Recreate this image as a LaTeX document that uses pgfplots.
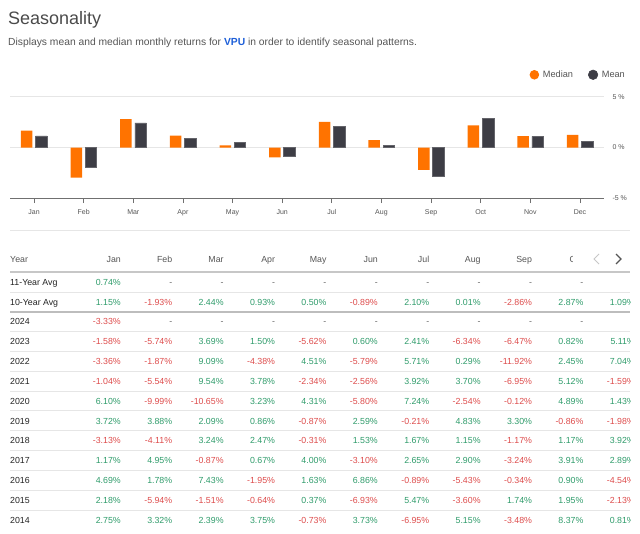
\documentclass[border=0pt]{standalone}
\usepackage{pgfplots}
\pgfplotsset{compat=1.18}
\usepackage{fontspec}
\setmainfont{Liberation Sans}

\definecolor{medc}{HTML}{FF7300}
\definecolor{meanc}{HTML}{3D3D45}
\definecolor{gridc}{HTML}{E6E6E6}
\definecolor{axc}{HTML}{707070}
\definecolor{txt}{HTML}{555555}
\definecolor{titc}{HTML}{4A4A4A}
\definecolor{rowc}{HTML}{222222}
\definecolor{pos}{HTML}{2E9B6A}
\definecolor{neg}{HTML}{DD4B4B}
\definecolor{dashc}{HTML}{666666}
\definecolor{vpu}{HTML}{1E5FD8}

\newcommand\fs[1]{\fontsize{#1bp}{#1bp}\selectfont}

% colour a table cell by its sign, "-" alone is an empty cell
\def\cell#1{\cellA#1\end}
\def\cellA#1#2\end{\if-#1\ifx\relax#2\relax\textcolor{dashc}{-}\else\textcolor{neg}{#1#2\%}\fi\else\textcolor{pos}{#1#2\%}\fi}

\newcommand\trow[3]{%
  \node[anchor=base west, text=rowc] at (10,#1+3.2) {#2};
  \foreach \v [count=\i] in {#3} {
    \node[anchor=base east] at ({69.6+51.4*\i},#1+3.2) {\expandafter\cell\expandafter{\v}};
  }
}

\pgfplotstableread{
m  median  mean
0  1.675   1.15
1  -2.99   -1.93
2  2.815   2.44
3  1.18    0.93
4  0.20    0.50
5  -0.98   -0.89
6  2.53    2.10
7  0.72    0.20
8  -2.205  -2.86
9  2.20    2.87
10 1.12    1.09
11 1.25    0.60
}\seas

\begin{document}
\begin{tikzpicture}[x=1bp, y=-1bp]
\path[use as bounding box] (0,0) rectangle (640,534);

\node[anchor=base west, text=titc, font=\fs{18}, inner sep=0] at (8,25) {Seasonality};
\node[anchor=base west, text=txt, font=\fs{10.3}, inner sep=0] at (8,46) {Displays mean and median monthly returns for \textcolor{vpu}{\textbf{VPU}} in order to identify seasonal patterns.};

\begin{axis}[
    at={(10bp,-198bp)}, anchor=south west,
    scale only axis, width=594bp, height=101bp,
    xmin=-0.484, xmax=11.484, ymin=-5, ymax=5,
    axis x line*=bottom, axis y line*=right,
    x axis line style={draw=axc},
    y axis line style={draw=none},
    xtick={0,...,11},
    xticklabels={Jan,Feb,Mar,Apr,May,Jun,Jul,Aug,Sep,Oct,Nov,Dec},
    ytick={-5,0,5},
    yticklabels={-5 \%,0 \%,5 \%},
    ymajorgrids, grid style={gridc, line width=1bp},
    tick align=outside, major tick length=5bp,
    x tick style={draw=axc, line width=0.8bp},
    y tick style={draw=none},
    tick label style={font=\fs{7}, text=txt},
    xticklabel style={text height=5bp, text depth=1.5bp, yshift=-3bp},
    yticklabel style={xshift=0bp},
    legend style={at={(1.0438,1.22)}, anchor=east, draw=none, fill=none,
      font=\fs{9.2}, text=txt, legend columns=2,
      /tikz/every even column/.append style={column sep=13bp}},
    legend cell align=left,
]
\addplot[ybar, bar width=11.5bp, bar shift=-7.3bp, fill=medc, draw=none,
  legend image code/.code={\fill[medc] (0bp,0bp) circle (4.8bp); \path (6.5bp,0bp);}]
  table[x=m, y=median] {\seas};
\addlegendentry{Median}
\addplot[ybar, bar width=11.5bp, bar shift=7.3bp, fill=meanc, draw=meanc!80!white, line width=0.5bp,
  legend image code/.code={\fill[meanc] (0bp,0bp) circle (4.8bp); \path (6.5bp,0bp);}]
  table[x=m, y=mean] {\seas};
\addlegendentry{Mean}
\end{axis}

% table
\draw[gridc, line width=1bp] (10,231) -- (630,231);
\begin{scope}
\clip (0,240) rectangle (630,534);
\begin{scope}[font=\fs{8.8}, every node/.style={inner sep=0pt}]
\node[anchor=base west, text=txt] at (10,262.2) {Year};
\foreach \h [count=\i] in {Jan,Feb,Mar,Apr,May,Jun,Jul,Aug,Sep,Oct,Nov}
  \node[anchor=base east, text=txt] at ({69.6+51.4*\i},262.2) {\h};
\draw[gridc!70!gray, line width=1.2bp] (10,272) -- (630,272);
\draw[gridc, line width=1bp] (10,292) -- (630,292);
\draw[gridc!60!gray, line width=2bp] (10,312) -- (630,312);
\foreach \k in {2,...,11}
  \draw[gridc, line width=1bp] (10,{282+19.83*\k+10}) -- (630,{282+19.83*\k+10});
\trow{282}{11-Year Avg}{0.74,-,-,-,-,-,-,-,-,-,-}
\trow{301.83}{10-Year Avg}{1.15,-1.93,2.44,0.93,0.50,-0.89,2.10,0.01,-2.86,2.87,1.09}
\trow{321.66}{2024}{-3.33,-,-,-,-,-,-,-,-,-,-}
\trow{341.49}{2023}{-1.58,-5.74,3.69,1.50,-5.62,0.60,2.41,-6.34,-6.47,0.82,5.11}
\trow{361.32}{2022}{-3.36,-1.87,9.09,-4.38,4.51,-5.79,5.71,0.29,-11.92,2.45,7.04}
\trow{381.15}{2021}{-1.04,-5.54,9.54,3.78,-2.34,-2.56,3.92,3.70,-6.95,5.12,-1.59}
\trow{400.98}{2020}{6.10,-9.99,-10.65,3.23,4.31,-5.80,7.24,-2.54,-0.12,4.89,1.43}
\trow{420.81}{2019}{3.72,3.88,2.09,0.86,-0.87,2.59,-0.21,4.83,3.30,-0.86,-1.98}
\trow{440.64}{2018}{-3.13,-4.11,3.24,2.47,-0.31,1.53,1.67,1.15,-1.17,1.17,3.92}
\trow{460.47}{2017}{1.17,4.95,-0.87,0.67,4.00,-3.10,2.65,2.90,-3.24,3.91,2.89}
\trow{480.30}{2016}{4.69,1.78,7.43,-1.95,1.63,6.86,-0.89,-5.43,-0.34,0.90,-4.54}
\trow{500.13}{2015}{2.18,-5.94,-1.51,-0.64,0.37,-6.93,5.47,-3.60,1.74,1.95,-2.13}
\trow{519.96}{2014}{2.75,3.32,2.39,3.75,-0.73,3.73,-6.95,5.15,-3.48,8.37,0.81}
\end{scope}
\end{scope}
% scroll arrows over the header
\fill[white] (572.5,249) rectangle (640,269);
\draw[gridc!70!gray, line width=1bp] (599,254) -- (594,259) -- (599,264);
\draw[txt, line width=1.2bp] (616,254) -- (621,259) -- (616,264);
\end{tikzpicture}
\end{document}
